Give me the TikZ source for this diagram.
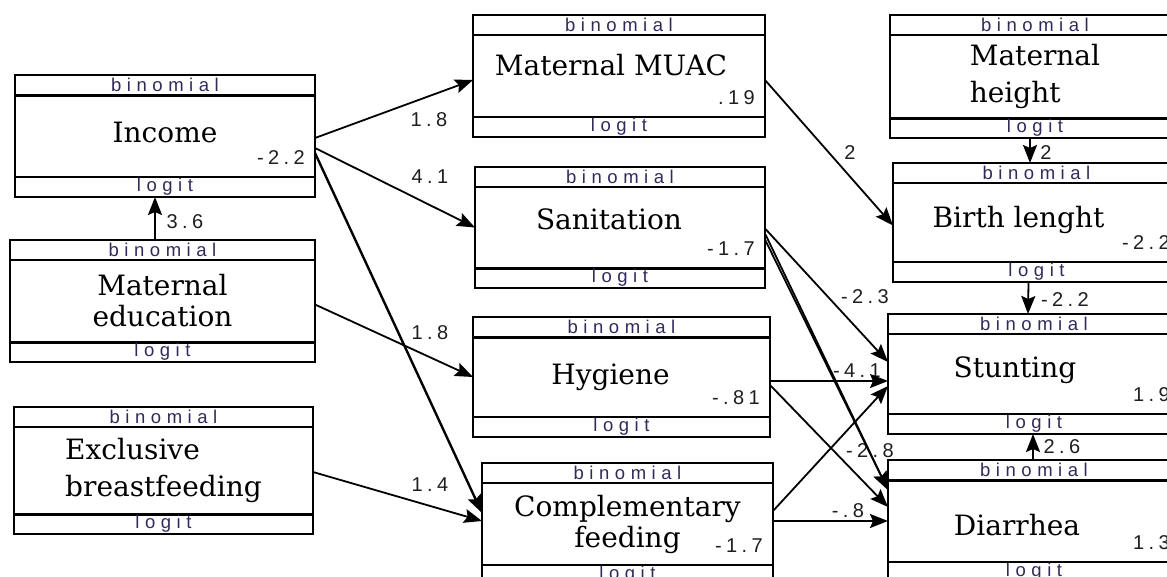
\documentclass[tikz,border=0pt]{standalone}
\usepackage{fontspec}
\usepackage{xcolor}
\usepackage{tikz}
\usetikzlibrary{positioning}
\usetikzlibrary{calc}
\usetikzlibrary{arrows.meta}
\newfontfamily\titlefont{DejaVu Serif}
\newfontfamily\bandfont[LetterSpace=30]{Liberation Sans}
\newfontfamily\numfont[LetterSpace=22]{Liberation Sans}
\definecolor{bandcol}{HTML}{34295A}
\definecolor{numcol}{HTML}{1E1E1E}

\begin{document}
\begin{tikzpicture}[x=1pt, y=-1pt, >={Stealth[length=18pt, width=14pt, inset=3pt]},
        edge/.style={->, line width=1.8pt},
        var/.style={draw, line width=2.2pt, minimum width=292pt, minimum height=122pt,
            inner sep=0pt, outer sep=0pt, font=\titlefont\fontsize{28}{31}\selectfont},
        wide lines/.style={font=\titlefont\fontsize{28}{37}\selectfont},
        band/.style={font=\bandfont\fontsize{18.5}{18.5}\selectfont, text=bandcol, inner sep=0pt},
        val/.style={font=\numfont\fontsize{20}{20}\selectfont, text=numcol, inner sep=0pt},
        textshift/.style={execute at begin node={\hspace*{#1}}}]

    \useasboundingbox (0,0) rectangle (1167,576);
    \clip (0,0) rectangle (1167,576);

    % left column
    \node [var, minimum width=300pt, text depth=7pt] (income) at (165,136) {Income};
    \node [var, minimum width=305pt, align=center, below=43pt of income, xshift=-2.5pt] (matedu) {Maternal\\education};
    \node [var, wide lines, minimum width=299pt, minimum height=127pt, align=left, below=45pt of matedu, xshift=1pt] (excl) {Exclusive\\breastfeeding};

    % middle column
    \node [var, textshift=-16pt, text depth=22pt] (muac) at (619,76) {Maternal MUAC};
    \node [var, minimum width=290pt, minimum height=121pt, textshift=-22pt, text depth=16pt, below=30pt of muac, xshift=1pt] (sanit) {Sanitation};
    \node [var, minimum width=297pt, minimum height=120pt, textshift=-22pt, below=29pt of sanit, xshift=1.5pt] (hyg) {Hygiene};
    \node [var, minimum width=291pt, align=center, below=26pt of hyg, xshift=6pt] (comp) {Complementary\\feeding};

    % right column
    \node [var, wide lines, minimum width=290pt, minimum height=123pt, align=left] (mheight) at (1035,76.5) {Maternal\\height};
    \node [var, minimum width=287pt, minimum height=119pt, textshift=-36pt, text depth=11pt, below=25pt of mheight, xshift=1.5pt] (birth) {Birth lenght};
    \node [var, minimum height=120pt, textshift=-38pt, text depth=13pt, below=32pt of birth, xshift=-2.5pt] (stunt) {Stunting};
    \node [var, textshift=-34pt, text height=29pt, below=26pt of stunt] (diar) {Diarrhea};

    % bands
    \foreach \n/\a/\b in {income/3pt/1.2pt, matedu/1.2pt/3pt, excl/1.2pt/3pt,
            muac/1.2pt/1.2pt, sanit/1.2pt/3pt, hyg/3pt/1.2pt, comp/1.2pt/1.2pt,
            mheight/1.2pt/3pt, birth/1.2pt/1.2pt, stunt/1.2pt/1.2pt, diar/3pt/1.2pt} {
        \draw [line width=\a] ([yshift=-20pt]\n.north west) -- ([yshift=-20pt]\n.north east);
        \draw [line width=\b] ([yshift=20pt]\n.south west) -- ([yshift=20pt]\n.south east);
        \node [band] (\n-b) at ([yshift=-10pt]\n.north) {binomial};
        \node [band] (\n-l) at ([yshift=10pt]\n.south) {logit};
    }

    % thresholds
    \foreach \n/\v in {income/-2.2, muac/.19, sanit/-1.7, hyg/-.81, comp/-1.7,
            birth/-2.2, stunt/1.9, diar/1.3} {
        \node [val, anchor=east] (\n-v) at ([xshift=-10pt, yshift=39pt]\n.south east) {\v};
    }

    % path weights
    \node [val] (w-inc-muac) at (429,120) {1.8};
    \node [val] (w-inc-san) at (430,177) {4.1};
    \node [val] (w-edu-hyg) at (430,333) {1.8};
    \node [val] (w-exc-comp) at (430,485) {1.4};
    \node [val] (w-edu-inc) at (185,222) {3.6};
    \node [val] (w-muac-bir) at (850,153) {2};
    \node [val] (w-hei-bir) at (1046,153) {2};
    \node [val] (w-bir-stu) at (1065,300) {-2.2};
    \node [val] (w-san-stu) at (865,297) {-2.3};
    \node [val] (w-hyg-stu) at (857,371) {-4.1};
    \node [val] (w-hyg-dia) at (870,451) {-2.8};
    \node [val] (w-comp-dia) at (848,511) {-.8};
    \node [val] (w-dia-stu) at (1062,447) {2.6};

    % paths
    \draw [edge] ([xshift=-7.5pt]matedu.north) -- ([xshift=-10pt]income.south);
    \draw [edge] ([yshift=-2pt]income.east) -- ([yshift=-4pt]muac.west);
    \draw [edge] ([yshift=-12pt]income.east) -- (sanit.west);
    \draw [edge, line width=2.4pt] ([yshift=-17pt]income.east) -- ([yshift=11pt]comp.west);
    \draw [edge] ([yshift=-3.5pt]matedu.east) -- (hyg.west);
    \draw [edge] ([yshift=-1.5pt]excl.east) -- ([yshift=3pt]comp.west);

    \draw [edge] ([yshift=-4pt]muac.east) -- ([yshift=-3pt]birth.west);
    \draw [edge] ([yshift=-1pt]sanit.east) -- ([yshift=12pt]stunt.west);
    \draw [edge] ([yshift=-6pt]sanit.east) -- ([yshift=31pt]diar.west);
    \draw [edge] ([yshift=-12pt]sanit.east) -- ([yshift=31pt]diar.west);
    \draw [edge] ([yshift=-4pt]hyg.east) -- ([yshift=-7pt]stunt.west);
    \draw [edge] ([yshift=-8pt]hyg.east) -- ([yshift=14pt]diar.west);
    \draw [edge] ([yshift=13pt]comp.east) -- ([yshift=-12pt]stunt.west);
    \draw [edge] ([yshift=3pt]comp.east) -- (diar.west);

    \draw [edge] ([xshift=-5pt]mheight.south) -- ([xshift=-6.5pt]birth.north);
    \draw [edge] ([xshift=-8pt]birth.south) -- ([xshift=-6pt]stunt.north);
    \draw [edge] ([xshift=-1pt]diar.north) -- ([xshift=-1pt]stunt.south);

\end{tikzpicture}
\end{document}
